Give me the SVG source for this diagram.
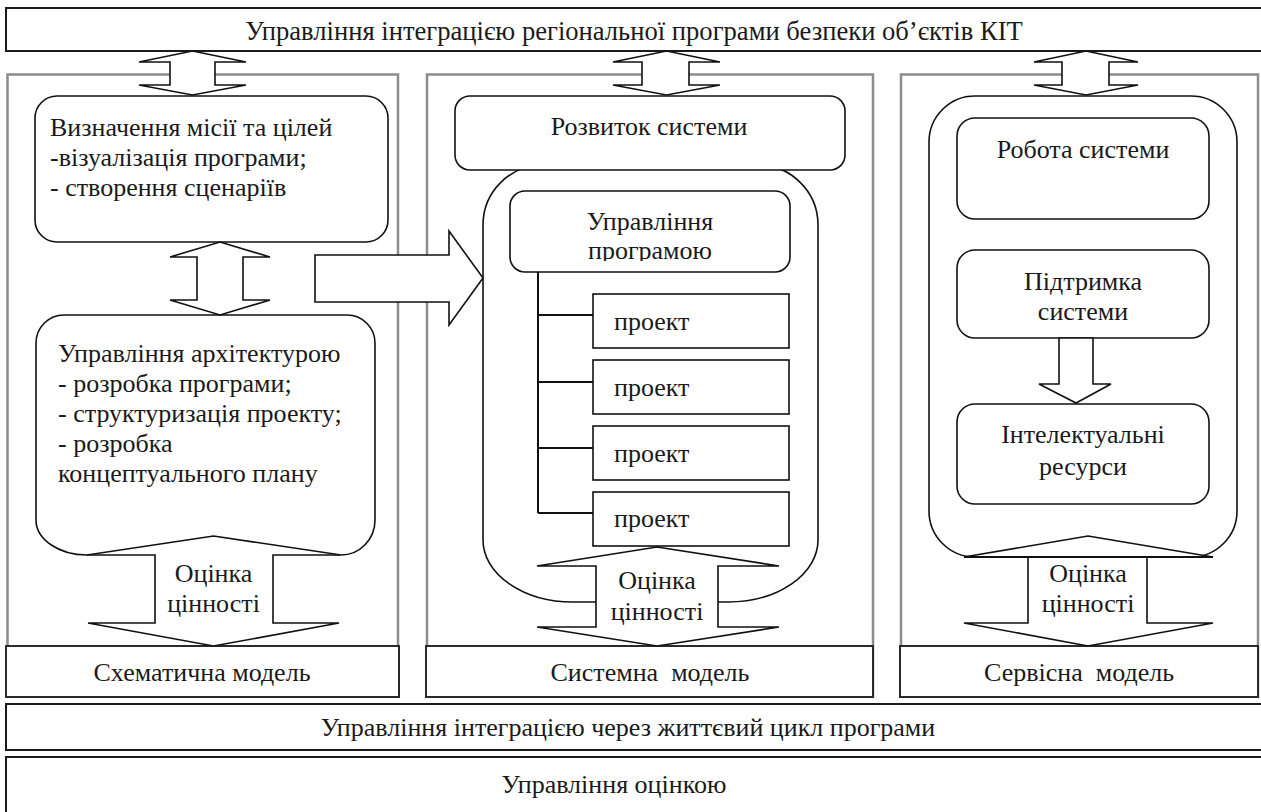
<svg xmlns="http://www.w3.org/2000/svg" width="1261" height="812" viewBox="0 0 1261 812">
<defs>
<style>
text{font-family:"Liberation Serif","Times New Roman",serif;font-size:26px;fill:#1a1a1a}
.c{text-anchor:middle}
.pre{white-space:pre}
.bar{fill:#fff;stroke:#1a1a1a;stroke-width:2}
.panel{fill:#fff;stroke:#8c8c8c;stroke-width:2.5}
.lbl{fill:#fff;stroke:#2a2a2a;stroke-width:2}
.box{fill:#fff;stroke:#111;stroke-width:1.6}
.arr{fill:#fff;stroke:#111;stroke-width:1.6;stroke-linejoin:miter}
.ln{fill:none;stroke:#111;stroke-width:2}
</style>
<clipPath id="clipProg"><rect x="510" y="191" width="280" height="70"/></clipPath>
</defs>
<rect width="1261" height="812" fill="#fff"/>

<g id="bar-top">
<rect class="bar" x="6" y="8" width="1270" height="43"/>
<text class="c" x="634" y="39.5" style="font-size:26.6px">Управління інтеграцією регіональної програми безпеки об’єктів КІТ</text>
</g>

<g id="panel-schematic">
<rect class="panel" x="7.5" y="74.5" width="390.5" height="622"/>
<rect class="lbl" x="6" y="646" width="393" height="51"/>
<text class="c" x="202" y="681">Схематична модель</text>
</g>
<g id="panel-system">
<rect class="panel" x="427" y="74.5" width="446" height="622"/>
<rect class="lbl" x="426" y="646" width="447" height="51"/>
<text class="c pre" x="650" y="681">Системна  модель</text>
</g>
<g id="panel-service">
<rect class="panel" x="901" y="74.5" width="357" height="622"/>
<rect class="lbl" x="900" y="646" width="358" height="51"/>
<text class="c pre" x="1079" y="681">Сервісна  модель</text>
</g>

<g id="bar-lifecycle">
<rect class="bar" x="6" y="704" width="1270" height="46" stroke-width="2.5"/>
<text class="c" x="628" y="736">Управління інтеграцією через життєвий цикл програми</text>
</g>
<g id="bar-evaluation">
<rect class="bar" x="6" y="757" width="1270" height="70" stroke-width="2.5"/>
<text class="c" x="614" y="793">Управління оцінкою</text>
</g>

<g id="node-mission">
<rect class="box" x="35" y="96" width="353" height="146" rx="22"/>
<text x="50" y="136">Визначення місії та цілей</text>
<text x="50" y="166">-візуалізація програми;</text>
<text x="50" y="196">- створення сценаріїв</text>
</g>

<g id="node-architecture">
<path class="box" d="M64,315 H347 A28,28 0 0 1 375,343 V520 A34,35 0 0 1 341,555 L213.5,536 L87,555 A51,35 0 0 1 36,520 V343 A28,28 0 0 1 64,315 Z"/>
<text x="58" y="362">Управління архітектурою</text>
<text x="58" y="392">- розробка програми;</text>
<text x="58" y="422">- структуризація проекту;</text>
<text x="58" y="452">- розробка</text>
<text x="58" y="482">концептуального плану</text>
</g>

<g id="node-system-outer">
<path class="box" d="M596,602 H573 A90,62 0 0 1 483,540 V225 A60,60 0 0 1 543,165 H758 A60,60 0 0 1 818,225 V540 A90,62 0 0 1 728,602 H718"/>
</g>
<g id="node-development">
<rect class="box" x="455" y="96" width="390" height="74" rx="15"/>
<text class="c" x="649" y="135">Розвиток системи</text>
</g>
<g id="node-program">
<rect class="box" x="510" y="191" width="280" height="81" rx="15"/>
<text class="c" x="650" y="230">Управління</text>
<text class="c" x="650" y="259" clip-path="url(#clipProg)">програмою</text>
</g>
<g id="node-project1">
<rect class="box" x="593" y="294" width="196" height="54"/>
<text x="614" y="330">проект</text>
</g>
<g id="node-project2">
<rect class="box" x="593" y="360" width="196" height="54"/>
<text x="614" y="396">проект</text>
</g>
<g id="node-project3">
<rect class="box" x="593" y="426" width="196" height="54"/>
<text x="614" y="462">проект</text>
</g>
<g id="node-project4">
<rect class="box" x="593" y="492" width="196" height="54"/>
<text x="614" y="527">проект</text>
</g>

<g id="node-service-outer">
<rect class="box" x="929" y="96" width="308" height="461" rx="46"/>
</g>
<g id="node-operation">
<rect class="box" x="957" y="118" width="252" height="101" rx="18"/>
<text class="c" x="1083" y="158">Робота системи</text>
</g>
<g id="node-support">
<rect class="box" x="957" y="250" width="252" height="88" rx="18"/>
<text class="c" x="1083" y="290">Підтримка</text>
<text class="c" x="1083" y="320">системи</text>
</g>
<g id="node-intellect">
<rect class="box" x="957" y="404" width="252" height="100" rx="18"/>
<text class="c" x="1083" y="443">Інтелектуальні</text>
<text class="c" x="1083" y="475">ресурси</text>
</g>

<g id="connectors">
<polygon class="arr" points="192.5,51 246,62 215,62 215,85 246,85 192.5,95 139,85 170,85 170,62 139,62"/>
<polygon class="arr" points="666.5,51 720,62 689,62 689,85 720,85 666.5,95 613,85 642,85 642,62 613,62"/>
<polygon class="arr" points="1086,51 1138,62 1109,62 1109,85 1138,85 1086,95 1034,85 1062,85 1062,62 1034,62"/>
<polygon class="arr" points="220,242 270,257 243,257 243,300 270,300 220,315 170,300 197,300 197,257 170,257"/>
<polygon class="arr" points="315,255 449,255 449,231 483,278 449,325 449,302 315,302"/>
<path class="ln" d="M538,272 V513 M538,315 H593 M538,382 H593 M538,448 H593 M538,513 H593"/>
<polygon class="arr" points="1059,338 1093,338 1093,384 1111,384 1076,403 1039,384 1059,384"/>
<polyline class="arr" points="87,555 155,555 155,623 88,623 213.5,646 339,623 273,623 273,555 340,555"/>
<polygon class="arr" points="657,547 779,566 718,566 718,627 779,627 657,646 537,627 596,627 596,566 537,566"/>
<polygon class="arr" points="1088,536 1213,557 1147,557 1147,623 1213,623 1088,646 964,623 1028,623 1028,557 964,557"/>
<path class="ln" stroke-width="1.6" d="M964,557 H1213"/>
<text class="c" x="213.5" y="582">Оцінка</text>
<text class="c" x="213.5" y="612">цінності</text>
<text class="c" x="657" y="589">Оцінка</text>
<text class="c" x="657" y="620">цінності</text>
<text class="c" x="1088" y="582">Оцінка</text>
<text class="c" x="1088" y="612">цінності</text>
</g>
</svg>
